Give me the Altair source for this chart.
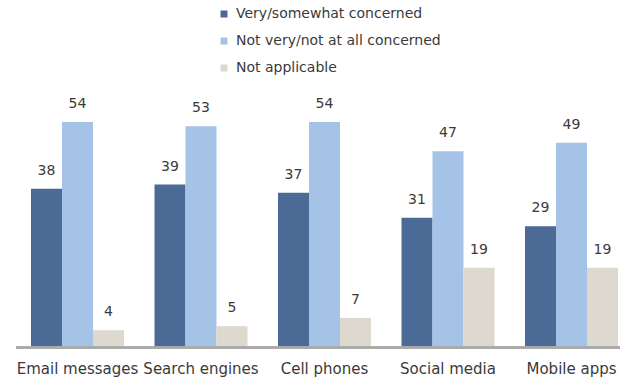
import altair as alt
import pandas as pd

categories = ["Email messages", "Search engines", "Cell phones", "Social media", "Mobile apps"]
series = ["Very/somewhat concerned", "Not very/not at all concerned", "Not applicable"]
concerned = [38, 39, 37, 31, 29]
not_concerned = [54, 53, 54, 47, 49]
not_applicable = [4, 5, 7, 19, 19]
colors = ["#4B6A96", "#A4C3E7", "#DDD9CE"]

rows = []
for i, c in enumerate(categories):
    for s, vals in zip(series, [concerned, not_concerned, not_applicable]):
        rows.append({"category": c, "series": s, "value": vals[i]})
df = pd.DataFrame(rows)

FONT = "DejaVu Sans"
W, H = 587, 225

x = alt.X("category:N", sort=categories,
          scale=alt.Scale(paddingInner=0.247, paddingOuter=0),
          axis=alt.Axis(title=None, labelAngle=0, domain=False, ticks=False,
                        labelPadding=14, labelFontSize=15, labelFont=FONT,
                        labelColor="#3a3a3a", labelBaseline="top"))
xo = alt.XOffset("series:N", sort=series, scale=alt.Scale(paddingInner=0, paddingOuter=0))
y = alt.Y("value:Q", scale=alt.Scale(domain=[0, 54], nice=False, zero=True), axis=None)

base = alt.Chart(df)
bars = base.mark_bar().encode(
    x=x, xOffset=xo, y=y,
    color=alt.Color("series:N", sort=series,
                    scale=alt.Scale(domain=series, range=colors),
                    legend=alt.Legend(title=None, orient="none", legendX=186, legendY=-115,
                                      symbolType="square", symbolSize=49, symbolStrokeWidth=0,
                                      labelFont=FONT, labelFontSize=14, labelColor="#3a3a3a",
                                      labelOffset=5, rowPadding=13, padding=0,
                                      labelLimit=400)),
)
labels = base.mark_text(font=FONT, fontSize=14, color="#3a3a3a", dy=-14,
                        baseline="alphabetic").encode(
    x=x, xOffset=xo, y=y, text="value:Q")
axisline = base.mark_rule(color="#AAAAAA", strokeWidth=1.5).encode(
    x=alt.value(-15), x2=alt.value(W + 5), y=alt.value(H + 0.5))

chart = alt.layer(bars, labels, axisline).properties(
    width=W, height=H,
    autosize=alt.AutoSizeParams(type="none"),
    padding={"left": 31, "top": 122, "right": 2, "bottom": 32},
    background="white",
).configure_view(stroke=None)

chart.save("out.html", embed_options={"renderer": "svg", "actions": False})
